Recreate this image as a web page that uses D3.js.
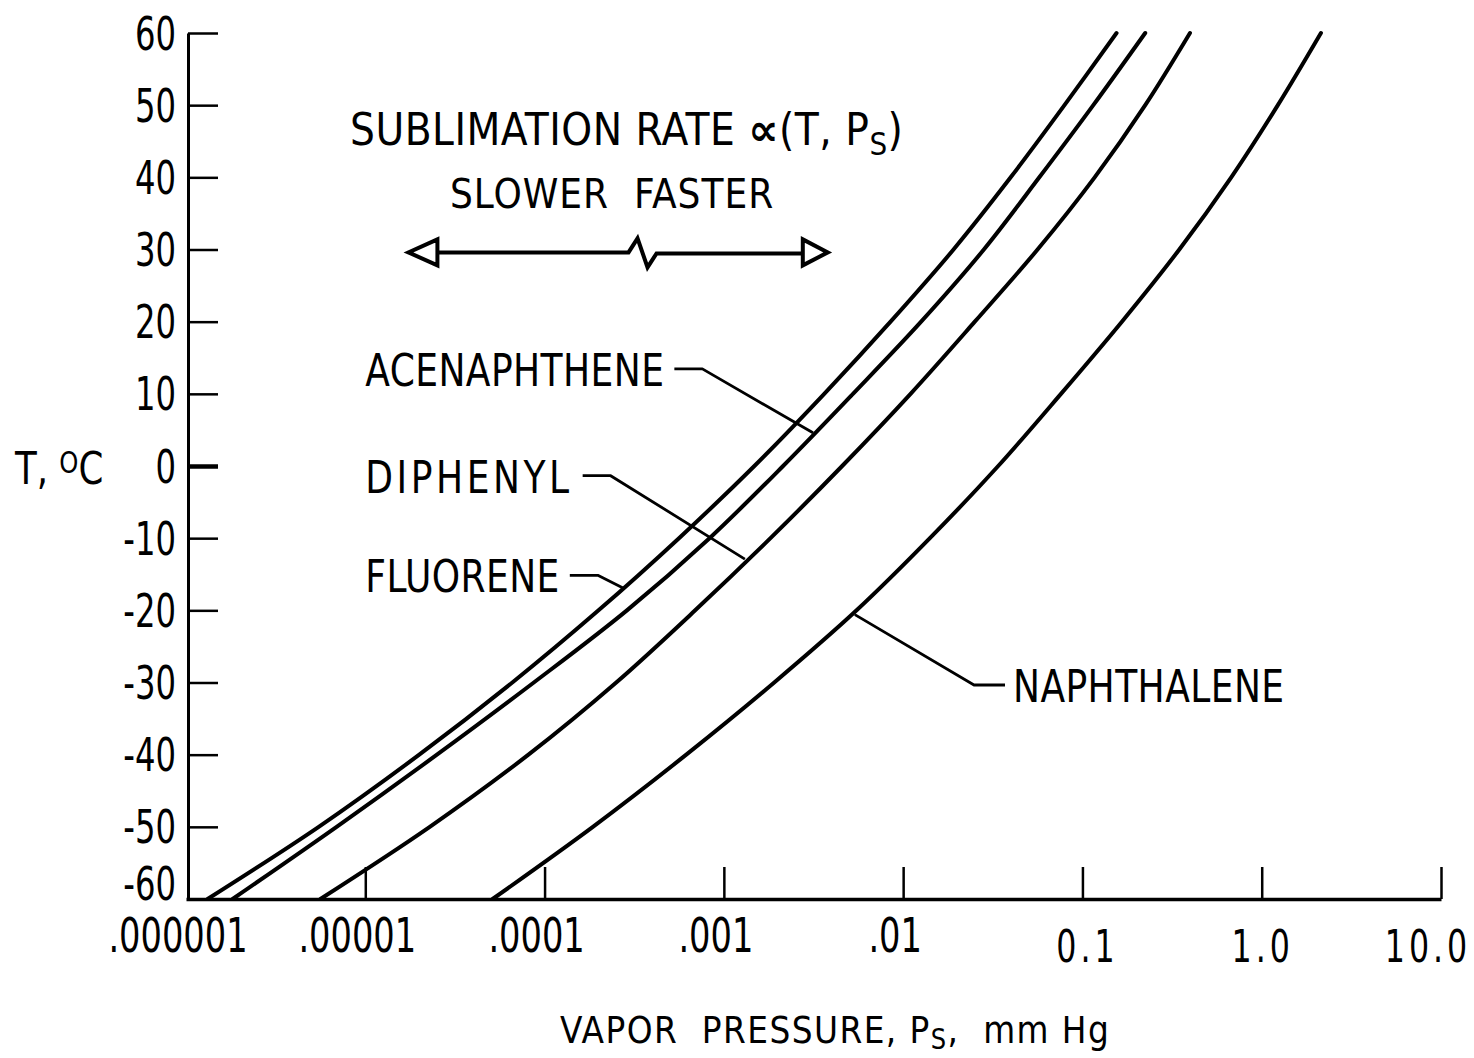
<!DOCTYPE html>
<html><head><meta charset="utf-8">
<script src="https://cdn.jsdelivr.net/npm/d3@7"></script>
<style>
body{margin:0;background:#fff;}
svg{display:block;background:#fff;}
text{font-family:"Liberation Sans Narrow","DejaVu Sans Condensed","Arial Narrow",sans-serif;fill:#000;white-space:pre;}
</style></head><body>
<svg id="chart" width="1474" height="1058"></svg>
<script>
// ---- data (T in °C, vapor pressure in mm Hg) ----
const temperatures = [-60,-50,-40,-30,-20,-10,0,10,20,30,40,50,60];
const fluorene     = [1.32e-6,5.50e-6,2.00e-5,6.61e-5,2.00e-4,5.62e-4,1.48e-3,3.63e-3,8.51e-3,1.91e-2,3.98e-2,7.94e-2,0.155];
const acenaphthene = [1.82e-6,6.92e-6,2.51e-5,8.71e-5,2.88e-4,8.32e-4,2.14e-3,5.25e-3,1.26e-2,2.82e-2,5.75e-2,0.115,0.224];
const diphenyl     = [5.62e-6,2.29e-5,8.13e-5,2.51e-4,6.92e-4,1.82e-3,4.57e-3,1.10e-2,2.51e-2,5.62e-2,0.117,0.224,0.398];
const naphthalene  = [5.13e-5,1.86e-4,6.17e-4,1.91e-3,5.50e-3,1.41e-2,3.39e-2,7.59e-2,0.166,0.347,0.676,1.23,2.14];

const seriesNames = ["FLUORENE","ACENAPHTHENE","DIPHENYL","NAPHTHALENE"];
const yTicks = [-60,-50,-40,-30,-20,-10,0,10,20,30,40,50,60];
const xTicks = [1e-6,1e-5,1e-4,1e-3,1e-2,0.1,1,10];
const xTickLabels = [".000001",".00001",".0001",".001",".01","0.1","1.0","10.0"];

// label annotations (data coordinates)
const annLabels = ["ACENAPHTHENE","DIPHENYL","FLUORENE","NAPHTHALENE"];
const annTextP  = [1e-5,1e-5,1e-5,0.041];
const annTextT  = [11.1,-3.7,-17.5,-32.7];
const annEndP   = [3.14e-3,1.31e-3,2.74e-4,5.38e-3];
const annEndT   = [4.6,-12.9,-16.9,-20.6];

const svg = d3.select("#chart");
const x = d3.scaleLog().domain([1e-6,10]).range([186,1441]);
const y = d3.scaleLinear().domain([-60,60]).range([899,33]);

// text helper: horizontally condensed text
function addText(parent, tx, ty, sx, size){
  return parent.append("g").attr("transform",`translate(${tx},${ty}) scale(${sx},1)`)
    .append("text").attr("x",0).attr("y",0).attr("font-size",size);
}

// ---- y axis ----
const yAxisG = svg.append("g").attr("transform","translate(188,0)")
  .call(d3.axisRight(y).tickValues(yTicks).tickSize(30).tickSizeOuter(0).tickFormat(""));
yAxisG.select(".domain").attr("stroke","#000").attr("stroke-width",3);
yAxisG.selectAll(".tick line").attr("stroke","#000").attr("stroke-width",d=>d===0?4.5:2.5);

const yLab = svg.append("g");
yTicks.forEach(d=>{
  addText(yLab,176,y(d)-(d===-60?16:0),0.78,46).attr("dy","0.36em").attr("text-anchor","end").text(String(d));
});

// y title
const yt = addText(svg,15,484,0.9,44);
yt.append("tspan").text("T, ");
yt.append("tspan").attr("font-size",30).attr("dy",-11).text("O");
yt.append("tspan").attr("dy",11).text("C");

// ---- x axis ----
const xAxisG = svg.append("g").attr("transform","translate(0,899)")
  .call(d3.axisTop(x).tickValues(xTicks).tickSize(32).tickSizeOuter(0).tickFormat(""));
xAxisG.select(".domain").attr("stroke","#000").attr("stroke-width",3.5);
xAxisG.selectAll(".tick line").attr("stroke","#000").attr("stroke-width",2.5);
xAxisG.select(".tick line").remove(); // first tick coincides with y-axis

const xLab = svg.append("g");
xTicks.forEach((d,i)=>{
  const lab = xTickLabels[i], dec = lab.startsWith(".");
  const dx = dec ? -8 : (i===7 ? -13 : (i===5 ? 5 : 1));
  addText(xLab, x(d)+dx, dec?952:962, dec?0.78:0.8, dec?48:44)
    .attr("text-anchor","middle").attr("letter-spacing",dec?0:5).text(lab);
});

// x title
const xt = addText(svg,560,1043,0.96,38).attr("letter-spacing",1.5);
xt.append("tspan").text("VAPOR  PRESSURE, P");
xt.append("tspan").attr("font-size",28).attr("dy",6).text("S");
xt.append("tspan").attr("dy",-6).text(",  mm Hg");

// ---- curves ----
const seriesData = [fluorene,acenaphthene,diphenyl,naphthalene];
const line = d3.line().x(d=>x(d.p)).y(d=>y(d.t)).curve(d3.curveCatmullRom.alpha(0.5));
svg.append("g").selectAll("path").data(seriesData).join("path")
  .attr("d",vals=>line(vals.map((p,i)=>({p:p,t:temperatures[i]}))))
  .attr("fill","none").attr("stroke","#000").attr("stroke-width",4)
  .attr("stroke-linecap","round").attr("data-name",(d,i)=>seriesNames[i]);

// ---- annotations ----
annLabels.forEach((lab,i)=>{
  const tx = x(annTextP[i]), ty = y(annTextT[i]);
  const right = i===3, sx = 0.89;
  const t = addText(svg,tx,ty,sx,45).attr("letter-spacing",lab==="DIPHENYL"?4:0.5).text(lab);
  const w = t.node().getComputedTextLength()*sx;
  const ly = ty - 17;
  let pts;
  if(!right){
    const sx0 = tx + w + 10;
    pts = [[sx0,ly],[sx0+28,ly],[x(annEndP[i]),y(annEndT[i])]];
  } else {
    const sx0 = tx - 8;
    pts = [[sx0,ly],[sx0-31,ly],[x(annEndP[i]),y(annEndT[i])]];
  }
  svg.append("path").attr("d",d3.line()(pts)).attr("fill","none")
    .attr("stroke","#000").attr("stroke-width",2.8).attr("stroke-linejoin","round");
});

// ---- sublimation-rate note ----
const st = addText(svg,350,145,0.97,45).attr("letter-spacing",0.5);
st.append("tspan").text("SUBLIMATION RATE ");
st.append("tspan").attr("font-family","DejaVu Sans").attr("font-weight","bold").attr("font-size",44).text("\u221D");
st.append("tspan").text("(T, P");
st.append("tspan").attr("font-size",32).attr("dy",10).text("S");
st.append("tspan").attr("dy",-10).text(")");

addText(svg,450,208,1,40).attr("letter-spacing",1).text("SLOWER  FASTER");

const arrowLeftP = 1.74e-5, arrowRightP = 3.8e-3, arrowT = 29.6, breakP = 3.3e-4;
const ax0 = x(arrowLeftP), ax1 = x(arrowRightP), ay = y(arrowT), bx = x(breakP);
const arrowPath =
  `M${ax0+29},${ay-13} L${ax0},${ay} L${ax0+29},${ay+13} Z` +
  `M${ax0+29},${ay} H${bx-9} L${bx},${ay-14} L${bx+10},${ay+15} L${bx+19},${ay+1} H${ax1-25}` +
  `M${ax1-25},${ay-13} L${ax1},${ay} L${ax1-25},${ay+13} Z`;
svg.append("path").attr("d",arrowPath).attr("fill","none").attr("stroke","#000")
  .attr("stroke-width",4).attr("stroke-linejoin","miter");
</script>
</body></html>
